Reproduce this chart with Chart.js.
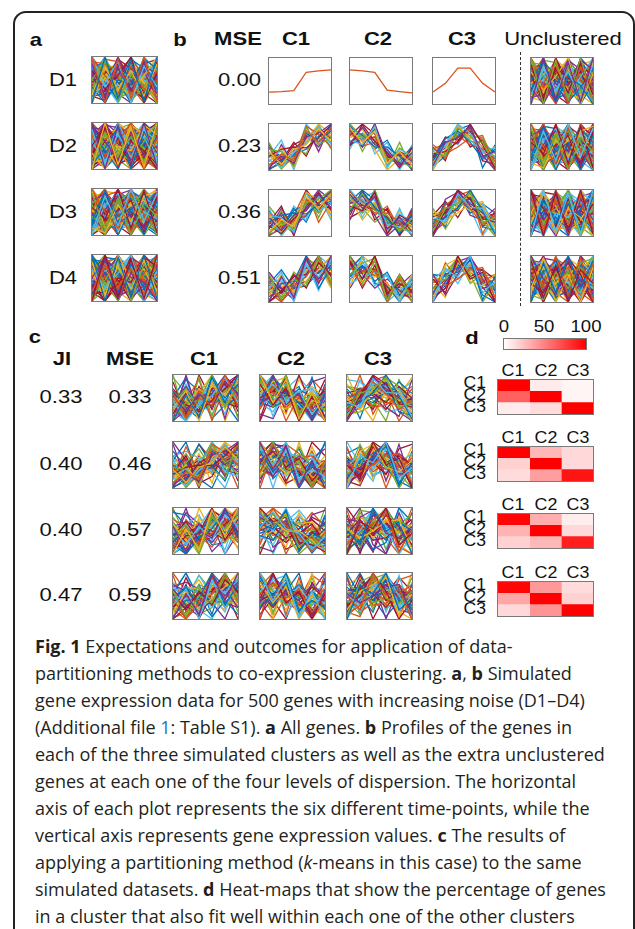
<!DOCTYPE html>
<html>
<head>
<meta charset="utf-8">
<script src="https://cdn.jsdelivr.net/npm/chart.js@4.4.0/dist/chart.umd.min.js"></script>
<style>
  html, body { margin: 0; padding: 0; background: #fff; }
  body { width: 635px; height: 929px; position: relative; overflow: hidden; }
  #outline {
    position: absolute; left: 13px; top: 11px; width: 618px; height: 1000px;
    border: 2px solid #222; border-radius: 13px;
  }
  .lbl {
    position: absolute; white-space: nowrap; text-align: right;
    font-family: "Liberation Sans", Arial, sans-serif; color: #111;
  }
  .frame { position: absolute; border: 1px solid #7a7a7a; background: #fff; }
  .frame canvas { display: block; }
  #dash { position: absolute; left: 520px; top: 52px; height: 254px; border-left: 1.6px dashed #333; }
  #cbar {
    position: absolute; left: 503px; top: 338px; width: 82px; height: 10px;
    border: 1px solid #777; background: linear-gradient(to right, #fff, #ff0000);
  }
  #caption {
    position: absolute; left: 35px; top: 633px; font-family: "Open Sans", sans-serif;
    font-size: 18px; line-height: 27px; color: #231f20; white-space: nowrap;
  }
  #caption .link { color: #1a73c0; }
</style>
</head>
<body>
<div id="outline"></div>
<div id="dash"></div>
<div id="cbar"></div>
<div id="caption">
<b>Fig. 1</b> Expectations and outcomes for application of data-<br>
partitioning methods to co-expression clustering. <b>a</b>, <b>b</b> Simulated<br>
gene expression data for 500 genes with increasing noise (D1–D4)<br>
(Additional file <span class="link">1</span>: Table S1). <b>a</b> All genes. <b>b</b> Profiles of the genes in<br>
each of the three simulated clusters as well as the extra unclustered<br>
genes at each one of the four levels of dispersion. The horizontal<br>
axis of each plot represents the six different time-points, while the<br>
vertical axis represents gene expression values. <b>c</b> The results of<br>
applying a partitioning method (<i>k</i>-means in this case) to the same<br>
simulated datasets. <b>d</b> Heat-maps that show the percentage of genes<br>
in a cluster that also fit well within each one of the other clusters
</div>
<script>
// six time points on the horizontal axis
const timePoints = ['t1', 't2', 't3', 't4', 't5', 't6'];

// noise-free cluster profiles (top row of b)
const c1Ideal = [0.26, 0.27, 0.29, 0.69, 0.72, 0.74];
const c2Ideal = [0.74, 0.72, 0.69, 0.30, 0.27, 0.24];
const c3Ideal = [0.26, 0.45, 0.78, 0.78, 0.45, 0.26];

// genes of cluster C1 (rising), low noise
const riseTight = [
  [0.10, 0.35, 0.20, 0.85, 0.60, 0.92], [0.40, 0.12, 0.45, 0.55, 0.90, 0.62],
  [0.05, 0.30, 0.15, 0.72, 0.80, 1.00], [0.45, 0.40, 0.08, 0.92, 0.55, 0.70],
  [0.22, 0.05, 0.38, 0.60, 0.95, 0.55], [0.30, 0.45, 0.50, 0.48, 0.70, 0.98],
  [0.00, 0.20, 0.32, 0.80, 0.62, 0.85], [0.48, 0.10, 0.25, 0.95, 0.78, 0.50],
  [0.18, 0.50, 0.05, 0.65, 1.00, 0.78], [0.12, 0.22, 0.42, 0.75, 0.50, 0.90],
  [0.38, 0.02, 0.30, 0.58, 0.85, 0.72], [0.26, 0.42, 0.18, 1.00, 0.68, 0.60],
  [0.02, 0.15, 0.55, 0.70, 0.92, 0.68], [0.50, 0.28, 0.35, 0.45, 0.74, 0.95],
  [0.30, 0.25, 0.30, 0.68, 0.72, 0.80], [0.20, 0.32, 0.26, 0.74, 0.66, 0.76]
];
// genes of cluster C2 (falling), low noise
const fallTight = [
  [0.90, 0.60, 0.85, 0.15, 0.40, 0.10], [0.58, 0.92, 0.55, 0.45, 0.10, 0.38],
  [1.00, 0.70, 0.80, 0.25, 0.20, 0.05], [0.65, 0.55, 0.95, 0.05, 0.45, 0.30],
  [0.52, 0.98, 0.62, 0.38, 0.05, 0.48], [0.95, 0.75, 0.50, 0.50, 0.30, 0.02],
  [0.80, 0.62, 0.72, 0.20, 0.38, 0.22], [0.70, 0.88, 0.45, 0.00, 0.25, 0.42],
  [0.85, 0.50, 1.00, 0.32, 0.15, 0.12], [0.60, 0.78, 0.65, 0.10, 0.48, 0.28],
  [0.98, 0.66, 0.58, 0.42, 0.02, 0.35], [0.75, 1.00, 0.78, 0.28, 0.35, 0.00],
  [0.55, 0.68, 0.88, 0.18, 0.22, 0.50], [0.88, 0.52, 0.60, 0.35, 0.12, 0.18],
  [0.72, 0.74, 0.66, 0.30, 0.28, 0.26], [0.78, 0.66, 0.72, 0.26, 0.32, 0.20]
];
// genes of cluster C3 (peak in the middle), low noise
const humpTight = [
  [0.10, 0.60, 0.70, 0.95, 0.30, 0.40], [0.40, 0.30, 0.92, 0.62, 0.60, 0.10],
  [0.05, 0.55, 1.00, 0.80, 0.38, 0.30], [0.35, 0.40, 0.62, 1.00, 0.55, 0.05],
  [0.20, 0.68, 0.85, 0.60, 0.25, 0.45], [0.48, 0.25, 0.70, 0.88, 0.65, 0.18],
  [0.00, 0.45, 0.95, 0.70, 0.50, 0.35], [0.30, 0.62, 0.58, 0.92, 0.32, 0.00],
  [0.15, 0.35, 0.80, 0.75, 0.70, 0.25], [0.42, 0.50, 0.98, 0.65, 0.40, 0.48],
  [0.25, 0.72, 0.65, 0.85, 0.20, 0.12], [0.08, 0.30, 0.88, 0.98, 0.58, 0.38],
  [0.45, 0.58, 0.75, 0.55, 0.45, 0.02], [0.18, 0.42, 0.60, 0.82, 0.35, 0.50],
  [0.28, 0.48, 0.74, 0.80, 0.48, 0.24], [0.22, 0.40, 0.82, 0.74, 0.42, 0.30]
];
// the same clusters at higher dispersion
const riseLoose = [
  [0.00, 0.55, 0.10, 0.95, 0.40, 1.00], [0.60, 0.05, 0.50, 0.35, 1.00, 0.45],
  [0.30, 0.65, 0.00, 0.80, 0.55, 0.95], [0.55, 0.20, 0.60, 0.30, 0.85, 0.60],
  [0.05, 0.40, 0.45, 1.00, 0.30, 0.75], [0.45, 0.00, 0.35, 0.55, 0.95, 0.40],
  [0.15, 0.60, 0.20, 0.45, 0.70, 1.00], [0.65, 0.30, 0.05, 1.00, 0.50, 0.80],
  [0.25, 0.10, 0.65, 0.40, 0.90, 0.35], [0.50, 0.45, 0.15, 0.85, 0.25, 0.90],
  [0.00, 0.25, 0.55, 0.60, 1.00, 0.55], [0.40, 0.70, 0.30, 0.35, 0.65, 0.85],
  [0.20, 0.00, 0.40, 0.90, 0.45, 0.65], [0.60, 0.35, 0.25, 0.70, 0.80, 0.30]
];
const fallLoose = [
  [1.00, 0.40, 0.90, 0.05, 0.60, 0.00], [0.45, 1.00, 0.35, 0.60, 0.00, 0.55],
  [0.90, 0.50, 1.00, 0.20, 0.40, 0.25], [0.55, 0.80, 0.45, 0.65, 0.15, 0.50],
  [0.80, 0.35, 0.70, 0.00, 0.55, 0.10], [0.35, 0.95, 0.60, 0.40, 0.05, 0.60],
  [1.00, 0.60, 0.30, 0.50, 0.25, 0.05], [0.60, 0.85, 0.95, 0.00, 0.45, 0.35],
  [0.40, 0.55, 0.65, 0.55, 0.10, 0.45], [0.85, 0.30, 0.80, 0.15, 0.60, 0.20],
  [0.70, 1.00, 0.40, 0.35, 0.00, 0.40], [0.50, 0.65, 0.90, 0.25, 0.50, 0.00],
  [0.95, 0.45, 0.55, 0.60, 0.20, 0.30], [0.30, 0.75, 0.70, 0.10, 0.35, 0.60]
];
const humpLoose = [
  [0.00, 0.70, 0.55, 1.00, 0.20, 0.45], [0.50, 0.20, 1.00, 0.50, 0.65, 0.00],
  [0.20, 0.60, 0.75, 0.95, 0.05, 0.55], [0.55, 0.35, 0.50, 0.70, 0.75, 0.10],
  [0.05, 0.80, 0.95, 0.45, 0.35, 0.60], [0.60, 0.15, 0.60, 1.00, 0.50, 0.05],
  [0.30, 0.50, 1.00, 0.60, 0.00, 0.40], [0.45, 0.75, 0.40, 0.85, 0.60, 0.20],
  [0.10, 0.30, 0.90, 0.55, 0.70, 0.50], [0.60, 0.55, 0.65, 0.90, 0.15, 0.00],
  [0.15, 0.85, 0.50, 0.75, 0.45, 0.60], [0.40, 0.10, 0.85, 0.65, 0.55, 0.15],
  [0.00, 0.45, 0.70, 1.00, 0.30, 0.35], [0.55, 0.65, 0.95, 0.40, 0.60, 0.55]
];
// unclustered genes
const noiseA = [
  [0.00, 1.00, 0.10, 0.90, 0.05, 1.00], [1.00, 0.00, 0.95, 0.10, 1.00, 0.05],
  [0.20, 0.80, 0.30, 0.70, 0.15, 0.85], [0.85, 0.15, 0.75, 0.25, 0.90, 0.20],
  [0.50, 0.95, 0.05, 0.60, 0.40, 0.00], [0.10, 0.45, 0.90, 0.00, 0.80, 0.35],
  [0.70, 0.30, 0.60, 1.00, 0.00, 0.65], [0.35, 0.00, 0.50, 0.40, 0.95, 0.75],
  [0.95, 0.60, 0.20, 0.80, 0.30, 0.50], [0.00, 0.75, 0.40, 0.15, 0.60, 1.00],
  [0.60, 0.10, 1.00, 0.45, 0.70, 0.10], [0.25, 0.90, 0.65, 0.05, 0.35, 0.80],
  [0.80, 0.40, 0.00, 0.70, 0.50, 0.25], [0.45, 0.65, 0.85, 0.30, 0.10, 0.90],
  [0.15, 0.20, 0.35, 0.95, 0.75, 0.40], [0.90, 0.85, 0.55, 0.20, 0.25, 0.70],
  [0.05, 0.55, 0.25, 0.85, 0.45, 0.15], [0.65, 0.05, 0.80, 0.55, 0.85, 0.60],
  [0.30, 1.00, 0.15, 0.65, 0.00, 0.45], [1.00, 0.35, 0.70, 0.35, 0.55, 0.95],
  [0.40, 0.25, 0.95, 0.75, 0.20, 0.00], [0.75, 0.70, 0.45, 0.00, 0.90, 0.30],
  [0.10, 0.90, 0.60, 0.50, 0.65, 0.85], [0.55, 0.50, 0.30, 0.90, 0.40, 0.05],
  [0.85, 0.00, 0.85, 0.60, 0.05, 0.55], [0.20, 0.60, 0.10, 0.25, 1.00, 0.70],
  [0.95, 0.20, 0.50, 0.85, 0.30, 1.00], [0.00, 0.80, 0.75, 0.35, 0.80, 0.20],
  [0.70, 0.45, 0.05, 1.00, 0.15, 0.60], [0.35, 0.95, 0.90, 0.10, 0.55, 0.35]
];
const noiseB = [
  [0.90, 0.10, 0.80, 0.00, 0.70, 0.40], [0.05, 0.85, 0.20, 1.00, 0.30, 0.90],
  [0.60, 0.35, 1.00, 0.15, 0.95, 0.05], [0.30, 0.95, 0.40, 0.60, 0.00, 0.75],
  [1.00, 0.50, 0.15, 0.90, 0.45, 0.20], [0.15, 0.05, 0.65, 0.30, 0.85, 0.95],
  [0.75, 0.90, 0.25, 0.45, 0.10, 0.55], [0.40, 0.20, 0.70, 0.95, 0.60, 0.00],
  [0.00, 0.65, 0.90, 0.20, 0.50, 0.35], [0.85, 0.30, 0.55, 0.75, 0.05, 0.80],
  [0.25, 0.75, 0.00, 0.55, 0.90, 0.60], [0.55, 1.00, 0.45, 0.05, 0.40, 0.10],
  [0.95, 0.15, 0.35, 0.65, 0.75, 0.50], [0.10, 0.55, 0.85, 0.40, 0.20, 1.00],
  [0.65, 0.00, 0.60, 0.85, 0.35, 0.25], [0.35, 0.70, 0.10, 0.25, 0.80, 0.65],
  [0.80, 0.45, 0.95, 0.50, 0.15, 0.85], [0.20, 0.90, 0.30, 0.80, 0.65, 0.00],
  [0.50, 0.25, 0.75, 0.10, 1.00, 0.45], [1.00, 0.60, 0.05, 0.70, 0.25, 0.90],
  [0.45, 0.05, 0.50, 1.00, 0.55, 0.30], [0.70, 0.80, 0.65, 0.35, 0.00, 0.70],
  [0.05, 0.40, 0.95, 0.60, 0.85, 0.15], [0.60, 1.00, 0.20, 0.00, 0.60, 0.50]
];
// unclustered genes with moderate spread
const noiseMid = [
  [0.35, 0.60, 0.45, 0.70, 0.30, 0.55], [0.65, 0.40, 0.55, 0.30, 0.70, 0.45],
  [0.50, 0.30, 0.70, 0.45, 0.60, 0.35], [0.40, 0.75, 0.35, 0.55, 0.45, 0.65],
  [0.60, 0.50, 0.40, 0.65, 0.35, 0.70], [0.30, 0.45, 0.60, 0.40, 0.75, 0.50],
  [0.70, 0.35, 0.50, 0.60, 0.40, 0.30], [0.45, 0.65, 0.30, 0.35, 0.55, 0.75],
  [0.55, 0.25, 0.65, 0.50, 0.30, 0.60], [0.25, 0.55, 0.50, 0.75, 0.50, 0.40],
  [0.75, 0.60, 0.35, 0.45, 0.65, 0.25], [0.40, 0.30, 0.75, 0.60, 0.25, 0.55],
  [0.60, 0.70, 0.55, 0.25, 0.60, 0.45], [0.35, 0.50, 0.40, 0.65, 0.70, 0.35],
  [0.50, 0.65, 0.60, 0.40, 0.35, 0.70], [0.65, 0.30, 0.45, 0.70, 0.50, 0.60],
  [0.30, 0.70, 0.65, 0.50, 0.40, 0.30], [0.55, 0.45, 0.25, 0.55, 0.75, 0.50],
  [0.45, 0.55, 0.70, 0.30, 0.45, 0.65], [0.70, 0.40, 0.50, 0.45, 0.55, 0.40]
];

// panel b / c row labels
const dataLabels = ['D1', 'D2', 'D3', 'D4'];
const mseSimulated = ['0.00', '0.23', '0.36', '0.51'];
const jiKmeans = ['0.33', '0.40', '0.40', '0.47'];
const mseKmeans = ['0.33', '0.46', '0.57', '0.59'];
const clusterNames = ['C1', 'C2', 'C3'];

// panel d: % of genes of row cluster that fit column cluster
const heatD1 = [[100, 8, 4], [62, 100, 4], [8, 14, 100]];
const heatD2 = [[100, 28, 15], [18, 100, 15], [14, 38, 92]];
const heatD3 = [[98, 32, 7], [30, 100, 15], [18, 28, 88]];
const heatD4 = [[98, 40, 14], [35, 100, 18], [15, 42, 100]];
const colorbarTicks = ['0', '50', '100'];

const lineColors = ['#0072BD', '#D95319', '#EDB120', '#7E2F8E', '#77AC30', '#4DBEEE', '#A2142F'];
const TEXT_STRETCH = 1.16; // figure text is a bit wider than plain Arial

// baseline = baseline of the first line of the text
function addText(html, x, baseline, size, align, bold, stretch, lineH) {
  const el = document.createElement('div');
  el.className = 'lbl';
  el.innerHTML = html;
  const lh = lineH || size;
  el.style.fontSize = size + 'px';
  el.style.lineHeight = lh + 'px';
  el.style.fontWeight = bold ? 'bold' : 'normal';
  el.style.left = x + 'px';
  el.style.top = (baseline - ((lh - 1.117 * size) / 2 + 0.905 * size)) + 'px';
  const s = stretch || TEXT_STRETCH;
  if (align === 'right') {
    el.style.transformOrigin = 'right center';
    el.style.transform = `translateX(-100%) scaleX(${s})`;
  } else if (align === 'left') {
    el.style.transformOrigin = 'left center';
    el.style.transform = `scaleX(${s})`;
  } else {
    el.style.transformOrigin = 'center center';
    el.style.transform = `translateX(-50%) scaleX(${s})`;
  }
  document.body.appendChild(el);
}

function makeFrame(left, top, w, h) {
  const div = document.createElement('div');
  div.className = 'frame';
  div.style.left = left + 'px';
  div.style.top = top + 'px';
  div.style.width = (w - 2) + 'px';
  div.style.height = (h - 2) + 'px';
  const canvas = document.createElement('canvas');
  canvas.width = w - 2;
  canvas.height = h - 2;
  div.appendChild(canvas);
  document.body.appendChild(div);
  return canvas;
}

function linePanel(left, top, w, h, genes, shift) {
  const canvas = makeFrame(left, top, w, h);
  new Chart(canvas, {
    type: 'line',
    data: {
      labels: timePoints,
      datasets: genes.map((g, i) => ({
        data: g,
        borderColor: lineColors[(i + shift) % lineColors.length],
        borderWidth: 1.3,
        pointRadius: 0,
        tension: 0
      }))
    },
    options: {
      responsive: false,
      animation: false,
      events: [],
      layout: { padding: 0 },
      plugins: { legend: { display: false }, tooltip: { enabled: false } },
      scales: {
        x: { display: false, offset: false },
        y: { display: false, min: 0, max: 1 }
      }
    }
  });
}

function heatColor(v) {
  const c = Math.round(255 * (1 - v / 100));
  return `rgb(255,${c},${c})`;
}

function heatPanel(left, top, w, h, values) {
  const canvas = makeFrame(left, top, w, h);
  new Chart(canvas, {
    type: 'bar',
    data: {
      labels: clusterNames,
      datasets: clusterNames.map((name, j) => ({
        label: name,
        data: values.map(() => [j, j + 1]),
        backgroundColor: values.map(row => heatColor(row[j])),
        borderWidth: 0,
        barPercentage: 1,
        categoryPercentage: 1,
        grouped: false
      }))
    },
    options: {
      indexAxis: 'y',
      responsive: false,
      animation: false,
      events: [],
      layout: { padding: 0 },
      plugins: { legend: { display: false }, tooltip: { enabled: false } },
      scales: {
        x: { display: false, min: 0, max: 3 },
        y: { display: false }
      }
    }
  });
}

// ---- panel labels ----
addText('a', 36, 46.5, 19, 'center', true);
addText('b', 180, 46.5, 19, 'center', true);
addText('c', 35, 343, 19, 'center', true);
addText('d', 472, 344, 19, 'center', true);

// ---- panels a and b ----
const rowTops = [56, 122, 188, 254];
const bLefts = [268, 349, 432, 530];
addText('MSE', 238, 45, 19, 'center', true);
addText('C1', 296, 45, 19, 'center', true);
addText('C2', 378, 45, 19, 'center', true);
addText('C3', 462, 45, 19, 'center', true);
addText('Unclustered', 563, 45, 19, 'center', false);

const panelA = [
  [...noiseA, ...noiseMid, ...noiseB, c1Ideal, c2Ideal, c3Ideal],
  [...noiseA, ...riseTight, ...fallTight, ...noiseMid, ...humpTight, ...noiseB],
  [...noiseB, ...riseTight.slice(0, 8), ...fallLoose, ...noiseMid, ...humpTight.slice(8), ...riseLoose.slice(7), ...noiseA],
  [...noiseA, ...riseLoose, ...fallLoose, ...noiseMid, ...humpLoose, ...noiseB]
];
const panelB = [
  [[c1Ideal], [c2Ideal], [c3Ideal], noiseA.concat(noiseMid, noiseB)],
  [riseTight.concat(riseLoose.slice(0, 4)), fallTight.concat(fallLoose.slice(0, 4)), humpTight.concat(humpLoose.slice(0, 4)), noiseB.concat(noiseMid, noiseA)],
  [riseTight.concat(riseLoose.slice(0, 9)), fallTight.concat(fallLoose.slice(0, 9)), humpTight.concat(humpLoose.slice(0, 9)), noiseA.concat(noiseMid.slice(0, 12), noiseB)],
  [riseLoose.concat(riseTight.slice(6)), fallLoose.concat(fallTight.slice(6)), humpLoose.concat(humpTight.slice(6)), noiseB.concat(noiseMid.slice(6), noiseA)]
];

rowTops.forEach((top, r) => {
  addText(dataLabels[r], 63, top + 30.5, 19, 'center', false);
  addText(mseSimulated[r], 261, top + 30.5, 19, 'right', false);
  linePanel(91, top, 67, 48, panelA[r], r * 2);
  panelB[r].forEach((genes, k) => {
    const shift = r === 0 && k < 3 ? 1 : r + k;
    linePanel(bLefts[k], top + 1, 64, 48, genes, shift);
  });
});

// ---- panel c ----
const cTops = [374, 441, 507, 572];
const cLefts = [172, 259, 346];
addText('JI', 62, 365, 19, 'center', true);
addText('MSE', 130, 365, 19, 'center', true);
addText('C1', 204, 365, 19, 'center', true);
addText('C2', 291, 365, 19, 'center', true);
addText('C3', 378, 365, 19, 'center', true);

const panelC = [
  [riseLoose.concat(noiseMid.slice(0, 10), noiseA.slice(0, 12), riseTight.slice(0, 6)), fallLoose.concat(noiseMid.slice(10), noiseB.slice(0, 12), fallTight.slice(0, 6)), humpTight.concat(noiseMid.slice(5, 15), noiseA.slice(12, 24))],
  [riseTight.concat(noiseB.slice(12, 24), noiseMid.slice(0, 10), riseLoose.slice(0, 6)), fallLoose.concat(noiseMid.slice(8, 18), noiseA.slice(18, 30), fallTight.slice(8)), humpLoose.concat(noiseMid.slice(0, 10), noiseB.slice(0, 10), humpTight.slice(0, 8))],
  [riseLoose.concat(noiseMid.slice(4, 14), noiseA.slice(6, 20), riseTight.slice(4, 10)), fallTight.concat(noiseMid.slice(10), noiseB.slice(4, 18)), humpLoose.concat(noiseMid.slice(0, 10), noiseA.slice(20, 30), noiseB.slice(18, 24))],
  [riseLoose.concat(noiseMid.slice(10), noiseB.slice(10, 24), riseTight.slice(10)), fallLoose.concat(noiseMid.slice(0, 10), noiseA.slice(0, 14)), humpLoose.concat(noiseMid.slice(6, 16), noiseB.slice(0, 14), humpTight.slice(10))]
];

cTops.forEach((top, r) => {
  addText(jiKmeans[r], 61, top + 29, 19, 'center', false);
  addText(mseKmeans[r], 130, top + 29, 19, 'center', false);
  panelC[r].forEach((genes, k) => linePanel(cLefts[k], top, 67, 48, genes, r + 2 * k));
});

// ---- panel d ----
addText(colorbarTicks[0], 504, 333, 16, 'center', false);
addText(colorbarTicks[1], 544, 333, 16, 'center', false);
addText(colorbarTicks[2], 586, 333, 16, 'center', false);

const heatTops = [379, 446, 513, 581];
const heatData = [heatD1, heatD2, heatD3, heatD4];
const heatLeft = 497, heatW = 97, heatH = 36;
heatTops.forEach((top, i) => {
  heatPanel(heatLeft, top, heatW, heatH, heatData[i]);
  clusterNames.forEach((name, j) => {
    addText(name, heatLeft + heatW * (j + 0.5) / 3, top - 3, 17, 'center', false, 1.05);
  });
  // stacked row labels, set as one block like the original
  addText(clusterNames.join('<br>'), 486, top + 9.5, 16, 'right', false, 1.1, 12.2);
});
</script>
</body>
</html>
